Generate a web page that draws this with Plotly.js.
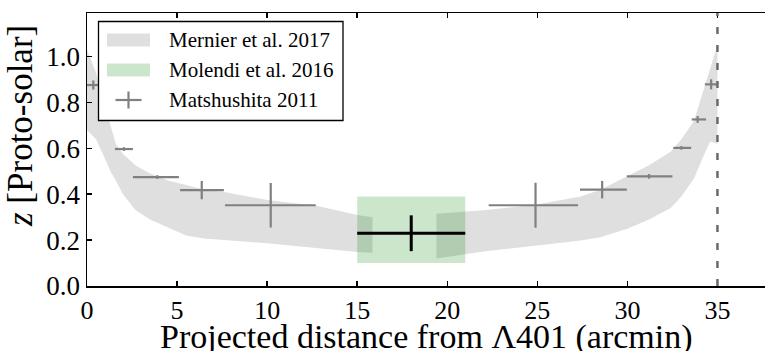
<!DOCTYPE html>
<html><head><meta charset="utf-8">
<script src="https://cdn.plot.ly/plotly-3.0.1.min.js"></script>
<style>html,body{margin:0;padding:0;background:#fff}</style>
</head><body><div id="chart" style="width:765px;height:351px"></div>
<script>
// Mernier et al. 2017 band (upper / lower envelope), two sides
const mernierLeftX  = [0, 0.5, 1.0, 1.3, 1.6, 2.0, 2.7, 3.5, 4.5, 5.5, 6.5, 7.6, 10, 12.75, 15, 15.85];
const mernierLeftUp = [1.03, 0.93, 0.78, 0.70, 0.62, 0.575, 0.525, 0.49, 0.46, 0.44, 0.42, 0.41, 0.375, 0.35, 0.31, 0.30];
const mernierLeftLo = [0.68, 0.64, 0.555, 0.50, 0.46, 0.40, 0.33, 0.29, 0.255, 0.22, 0.207, 0.20, 0.186, 0.165, 0.148, 0.145];
const mernierRightX  = [19.4, 22, 25, 27.4, 28.5, 30, 31.2, 32.4, 33.0, 33.7, 34.3, 34.6, 35];
const mernierRightUp = [0.315, 0.33, 0.355, 0.39, 0.42, 0.48, 0.526, 0.585, 0.64, 0.72, 0.87, 0.95, 1.05];
const mernierRightLo = [0.12, 0.15, 0.177, 0.198, 0.213, 0.25, 0.29, 0.34, 0.39, 0.47, 0.58, 0.63, 0.62];

// Molendi et al. 2016 box and measurement
const molendiBoxX = [15, 21];
const molendiBoxY = [0.10, 0.39];
const molendiX = [18.0];
const molendiY = [0.23];
const molendiXErr = [3.0];
const molendiYErr = [0.078];

// Matsushita 2011
const matsX      = [0.35, 2.05, 3.9, 6.37, 10.2, 24.9, 28.6, 31.2, 33.0, 33.9, 34.65];
const matsY      = [0.876, 0.597, 0.475, 0.418, 0.352, 0.352, 0.42, 0.478, 0.602, 0.726, 0.879];
const matsXErrLo = [0.35, 0.5, 1.35, 1.2, 2.54, 2.6, 1.23, 1.23, 0.45, 0.33, 0.35];
const matsXErrHi = [0.35, 0.5, 1.2, 1.23, 2.5, 2.36, 1.37, 1.3, 0.54, 0.47, 0.31];
const matsYErr   = [0.02, 0.008, 0.008, 0.04, 0.097, 0.098, 0.038, 0.01, 0.008, 0.015, 0.022];

// boundary marker
const boundaryX = [35];

const xTicks = [0, 5, 10, 15, 20, 25, 30, 35];
const yTicks = [0.0, 0.2, 0.4, 0.6, 0.8, 1.0];
const legendLabels = ['Mernier et al. 2017', 'Molendi et al. 2016', 'Matshushita 2011'];
const xTitle = 'Projected distance from Λ401 (arcmin)';
const yTitle = '<i>z</i> [Proto-solar]';

const W = 765, H = 351, ML = 87, MR = 0, MT = 13, MB = 65;
const PX = p => (p - ML) / (W - ML - MR);
const PY = p => (H - MB - p) / (H - MT - MB);

const SERIF = '"Liberation Serif", "Times New Roman", Times, serif';
const GRAYFILL = 'rgba(128,128,128,0.25)';
const GREENFILL = 'rgba(0,128,0,0.2)';
const ERRGRAY = '#808080';

function band(x, up, lo) {
  return {
    x: x.concat(x.slice().reverse()),
    y: up.concat(lo.slice().reverse()),
    type: 'scatter', mode: 'lines', fill: 'toself',
    fillcolor: GRAYFILL, line: {width: 0}, hoverinfo: 'skip', showlegend: false
  };
}

const traces = [
  band(mernierLeftX, mernierLeftUp, mernierLeftLo),
  band(mernierRightX, mernierRightUp, mernierRightLo),
  {
    x: [molendiBoxX[0], molendiBoxX[1], molendiBoxX[1], molendiBoxX[0]],
    y: [molendiBoxY[0], molendiBoxY[0], molendiBoxY[1], molendiBoxY[1]],
    type: 'scatter', mode: 'lines', fill: 'toself',
    fillcolor: GREENFILL, line: {width: 0}, hoverinfo: 'skip', showlegend: false
  },
  {
    x: matsX, y: matsY, type: 'scatter', mode: 'markers',
    marker: {size: 1, color: 'rgba(0,0,0,0)'},
    error_x: {type: 'data', symmetric: false, array: matsXErrHi, arrayminus: matsXErrLo, thickness: 2.2, width: 0, color: ERRGRAY},
    error_y: {type: 'data', array: matsYErr, thickness: 2.2, width: 0, color: ERRGRAY},
    showlegend: false
  },
  {
    x: molendiX, y: molendiY, type: 'scatter', mode: 'markers',
    marker: {size: 1, color: 'rgba(0,0,0,0)'},
    error_x: {type: 'data', array: molendiXErr, thickness: 3, width: 0, color: '#000'},
    error_y: {type: 'data', array: molendiYErr, thickness: 3, width: 0, color: '#000'},
    showlegend: false
  }
];

// legend geometry (pixels)
const LG = {x0: 98.5, x1: 343, y0: 21.5, y1: 120.5, sw0: 107, sw1: 150, tx: 167, rows: [40, 70, 100]};

const shapes = [
  {type: 'line', xref: 'x', yref: 'paper', x0: boundaryX[0], x1: boundaryX[0], y0: 0, y1: 1,
   line: {color: '#6a6a6a', width: 2.5, dash: '7px,11px'}, layer: 'above'},
  {type: 'rect', xref: 'paper', yref: 'paper', x0: PX(LG.x0), x1: PX(LG.x1), y0: PY(LG.y1), y1: PY(LG.y0),
   fillcolor: '#fff', line: {color: '#000', width: 1.3}, layer: 'above'},
  {type: 'rect', xref: 'paper', yref: 'paper', x0: PX(LG.sw0), x1: PX(LG.sw1), y0: PY(LG.rows[0] + 6.5), y1: PY(LG.rows[0] - 6.5),
   fillcolor: GRAYFILL, line: {width: 0}, layer: 'above'},
  {type: 'rect', xref: 'paper', yref: 'paper', x0: PX(LG.sw0), x1: PX(LG.sw1), y0: PY(LG.rows[1] + 6.5), y1: PY(LG.rows[1] - 6.5),
   fillcolor: GREENFILL, line: {width: 0}, layer: 'above'},
  {type: 'line', xref: 'paper', yref: 'paper', x0: PX(115.5), x1: PX(141.5), y0: PY(LG.rows[2]), y1: PY(LG.rows[2]),
   line: {color: ERRGRAY, width: 2.2}, layer: 'above'},
  {type: 'line', xref: 'paper', yref: 'paper', x0: PX(128.5), x1: PX(128.5), y0: PY(LG.rows[2] - 8.5), y1: PY(LG.rows[2] + 8.5),
   line: {color: ERRGRAY, width: 2.2}, layer: 'above'}
];

const annotations = legendLabels.map((t, i) => ({
  text: t, xref: 'paper', yref: 'paper', x: PX(LG.tx), y: PY(LG.rows[i]),
  xanchor: 'left', yanchor: 'middle', showarrow: false,
  font: {family: SERIF, size: 21, color: '#000'}
}));
annotations.push({
  text: yTitle, xref: 'paper', yref: 'paper', x: PX(21), y: PY(126),
  xanchor: 'center', yanchor: 'middle', textangle: -90, showarrow: false,
  font: {family: SERIF, size: 35, color: '#000'}
});
annotations.push({
  text: xTitle, xref: 'paper', yref: 'paper', x: PX(426), y: PY(337),
  xanchor: 'center', yanchor: 'middle', showarrow: false,
  font: {family: SERIF, size: 34, color: '#000'}
});

const layout = {
  width: W, height: H,
  margin: {l: ML, r: MR, t: MT, b: MB, pad: 0},
  paper_bgcolor: '#fff', plot_bgcolor: '#fff',
  showlegend: false,
  font: {family: SERIF, color: '#000'},
  xaxis: {
    range: [0, 37.64], tickvals: xTicks, ticktext: xTicks.map(String),
    ticks: 'inside', ticklen: 5, tickwidth: 1.5, tickcolor: '#000',
    showline: true, linecolor: '#000', linewidth: 1.5, mirror: 'ticks',
    showgrid: false, zeroline: false,
    tickfont: {family: SERIF, size: 26, color: '#000'},
    automargin: false
  },
  yaxis: {
    range: [0, 1.19], tickvals: yTicks, ticktext: yTicks.map(v => v.toFixed(1)),
    ticks: 'inside', ticklen: 5, tickwidth: 1.5, tickcolor: '#000',
    showline: true, linecolor: '#000', linewidth: 1.5,
    showgrid: false, zeroline: false,
    tickfont: {family: SERIF, size: 27, color: '#000'},
    automargin: false
  },
  shapes: shapes,
  annotations: annotations
};

Plotly.newPlot('chart', traces, layout, {staticPlot: true, displayModeBar: false});
</script>
</body></html>
